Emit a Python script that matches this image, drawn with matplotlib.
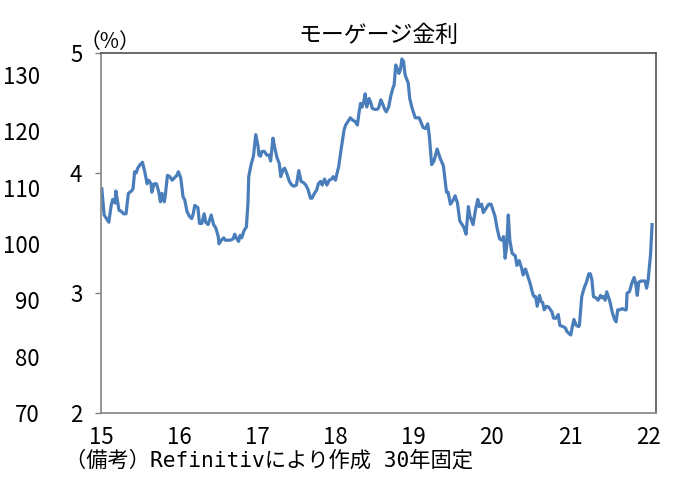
import matplotlib
matplotlib.use("Agg")
import matplotlib.pyplot as plt

# ---- data ----
years = [15.01, 15.04, 15.07, 15.10, 15.13, 15.15, 15.18, 15.19, 15.21, 15.23, 15.26, 15.29, 15.32,
         15.35, 15.39, 15.41, 15.43, 15.45, 15.47, 15.50, 15.52, 15.53, 15.56, 15.59, 15.61, 15.64,
         15.65, 15.68, 15.71, 15.74, 15.76, 15.78, 15.81, 15.82, 15.85, 15.88, 15.91, 15.94, 15.97,
         15.99, 16.02, 16.05, 16.07, 16.10, 16.13, 16.16, 16.18, 16.20, 16.24, 16.26, 16.29, 16.32,
         16.34, 16.37, 16.39, 16.41, 16.44, 16.47, 16.50, 16.51, 16.54, 16.57, 16.59, 16.62, 16.65,
         16.69, 16.71, 16.74, 16.76, 16.78, 16.80, 16.83, 16.86, 16.88, 16.89, 16.92, 16.95, 16.98,
         17.01, 17.02, 17.04, 17.06, 17.09, 17.12, 17.15, 17.17, 17.20, 17.22, 17.25, 17.28, 17.30,
         17.33, 17.35, 17.38, 17.41, 17.44, 17.47, 17.50, 17.53, 17.56, 17.59, 17.62, 17.65, 17.68,
         17.70, 17.73, 17.76, 17.78, 17.81, 17.83, 17.86, 17.89, 17.92, 17.95, 17.97, 18.00, 18.02,
         18.04, 18.07, 18.11, 18.13, 18.16, 18.19, 18.22, 18.25, 18.28, 18.30, 18.32, 18.34, 18.36,
         18.38, 18.40, 18.43, 18.45, 18.47, 18.50, 18.53, 18.55, 18.58, 18.60, 18.63, 18.65, 18.68,
         18.71, 18.74, 18.75, 18.77, 18.79, 18.81, 18.83, 18.85, 18.87, 18.89, 18.90, 18.93, 18.95,
         18.98, 19.02, 19.07, 19.12, 19.15, 19.18, 19.20, 19.23, 19.26, 19.30, 19.34, 19.38, 19.42,
         19.44, 19.47, 19.51, 19.53, 19.56, 19.59, 19.62, 19.64, 19.67, 19.70, 19.72, 19.76, 19.79,
         19.82, 19.84, 19.87, 19.89, 19.93, 19.96, 19.99, 20.02, 20.04, 20.07, 20.10, 20.13, 20.15,
         20.17, 20.19, 20.21, 20.23, 20.26, 20.30, 20.32, 20.35, 20.38, 20.40, 20.43, 20.46, 20.49,
         20.52, 20.54, 20.56, 20.58, 20.61, 20.63, 20.65, 20.67, 20.70, 20.73, 20.77, 20.79, 20.82,
         20.85, 20.87, 20.91, 20.94, 20.96, 20.99, 21.01, 21.03, 21.05, 21.08, 21.11, 21.12, 21.15,
         21.18, 21.21, 21.24, 21.26, 21.28, 21.30, 21.33, 21.36, 21.39, 21.41, 21.43, 21.45, 21.47,
         21.49, 21.51, 21.54, 21.57, 21.59, 21.61, 21.64, 21.67, 21.70, 21.72, 21.73, 21.76, 21.79,
         21.82, 21.84, 21.86, 21.88, 21.91, 21.94, 21.96, 21.98, 22.00, 22.03, 22.05]

rates = [3.87, 3.65, 3.62, 3.59, 3.73, 3.78, 3.75, 3.85, 3.77, 3.69, 3.68, 3.66, 3.66,
         3.83, 3.85, 3.87, 4.01, 4.00, 4.04, 4.07, 4.08, 4.09, 4.01, 3.91, 3.94, 3.91,
         3.84, 3.91, 3.91, 3.84, 3.76, 3.83, 3.76, 3.80, 3.98, 3.97, 3.94, 3.96, 3.98,
         4.01, 3.96, 3.80, 3.78, 3.68, 3.64, 3.62, 3.66, 3.73, 3.71, 3.58, 3.58, 3.66,
         3.59, 3.57, 3.61, 3.65, 3.57, 3.54, 3.47, 3.41, 3.44, 3.46, 3.44, 3.44, 3.44,
         3.45, 3.49, 3.45, 3.43, 3.48, 3.46, 3.52, 3.55, 3.75, 3.97, 4.07, 4.14, 4.32,
         4.22, 4.15, 4.14, 4.18, 4.18, 4.15, 4.15, 4.10, 4.29, 4.22, 4.13, 4.08, 3.97,
         4.03, 4.04, 3.99, 3.93, 3.90, 3.89, 3.90, 4.02, 3.93, 3.92, 3.90, 3.86, 3.79,
         3.79, 3.83, 3.86, 3.91, 3.93, 3.90, 3.95, 3.90, 3.94, 3.95, 3.97, 3.94, 4.00,
         4.05, 4.19, 4.36, 4.40, 4.43, 4.46, 4.44, 4.43, 4.40, 4.50, 4.58, 4.55, 4.59,
         4.66, 4.55, 4.62, 4.59, 4.54, 4.53, 4.53, 4.54, 4.61, 4.58, 4.53, 4.51, 4.55,
         4.65, 4.72, 4.73, 4.90, 4.87, 4.83, 4.86, 4.95, 4.93, 4.82, 4.80, 4.75, 4.62,
         4.54, 4.46, 4.46, 4.38, 4.37, 4.41, 4.31, 4.07, 4.10, 4.20, 4.12, 4.06, 3.84,
         3.84, 3.74, 3.78, 3.81, 3.75, 3.60, 3.57, 3.55, 3.49, 3.72, 3.64, 3.57, 3.69,
         3.78, 3.72, 3.74, 3.67, 3.71, 3.74, 3.74, 3.68, 3.64, 3.53, 3.45, 3.44, 3.47,
         3.29, 3.39, 3.65, 3.44, 3.33, 3.31, 3.23, 3.27, 3.21, 3.15, 3.20, 3.14, 3.08,
         3.00, 2.97, 2.97, 2.89, 2.98, 2.93, 2.92, 2.86, 2.89, 2.88, 2.84, 2.79, 2.79,
         2.82, 2.73, 2.72, 2.71, 2.68, 2.66, 2.65, 2.72, 2.78, 2.73, 2.72, 2.73, 2.97,
         3.04, 3.09, 3.16, 3.16, 3.11, 2.97, 2.96, 2.94, 2.98, 2.96, 2.97, 2.94, 3.01,
         2.97, 2.93, 2.84, 2.78, 2.76, 2.86, 2.86, 2.87, 2.86, 2.86, 3.00, 3.01, 3.08,
         3.13, 3.08, 2.98, 3.09, 3.10, 3.10, 3.10, 3.04, 3.11, 3.32, 3.57]

x_ticks = [15, 16, 17, 18, 19, 20, 21, 22]
x_labels = ["15", "16", "17", "18", "19", "20", "21", "22"]
y_ticks = [2, 3, 4, 5]
y_labels = ["2", "3", "4", "5"]
y2_ticks = [70, 80, 90, 100, 110, 120, 130]
y2_labels = ["70", "80", "90", "100", "110", "120", "130"]

title = "モーゲージ金利"
unit = "（%）"
note = "（備考）Refinitivにより作成 30年固定"

# ---- fonts ----
plt.rcParams["font.family"] = ["Noto Sans CJK JP", "DejaVu Sans"]
note_fam = ["DejaVu Sans Mono", "Noto Sans CJK JP"]

W, H = 682, 504
fig = plt.figure(figsize=(W / 100, H / 100), dpi=100)
ax = fig.add_axes([101 / W, 1 - 413 / H, (656 - 101) / W, (413 - 53) / H])

ax.plot(years, rates, color="#4a7ebb", lw=2.3, solid_joinstyle="round")

ax.set_xlim(15, 22.1)
ax.set_ylim(2, 5)
ax.set_xticks(x_ticks)
ax.set_xticklabels(x_labels)
ax.set_yticks(y_ticks)
ax.set_yticklabels(y_labels)
ax.tick_params(axis="x", length=0, pad=9, labelsize=16)
ax.tick_params(axis="y", length=4.5, width=1, color="#808080", pad=9, labelsize=16)

for s in ["left", "bottom"]:
    ax.spines[s].set_color("#8c8c8c")
    ax.spines[s].set_linewidth(1.3)
for s in ["top", "right"]:
    ax.spines[s].set_color("#505050")
    ax.spines[s].set_linewidth(1.2)

# secondary scale shown on far left
ax2 = ax.twinx()
ax2.set_ylim(70, 70 + 360 / (338 / 60))
ax2.yaxis.tick_left()
ax2.set_yticks(y2_ticks)
ax2.set_yticklabels(y2_labels)
ax2.tick_params(axis="y", length=0, pad=44, labelsize=16)
for s in ax2.spines.values():
    s.set_visible(False)

fig.text(378 / W, 1 - 35 / H, title, ha="center", va="center", fontsize=16.5)
fig.text(80 / W, 1 - 42 / H, unit, ha="left", va="center", fontsize=15)
fig.text(65 / W, 1 - 460 / H, note, ha="left", va="center", fontsize=15.3, family=note_fam)

fig.savefig("out.png", dpi=100)
